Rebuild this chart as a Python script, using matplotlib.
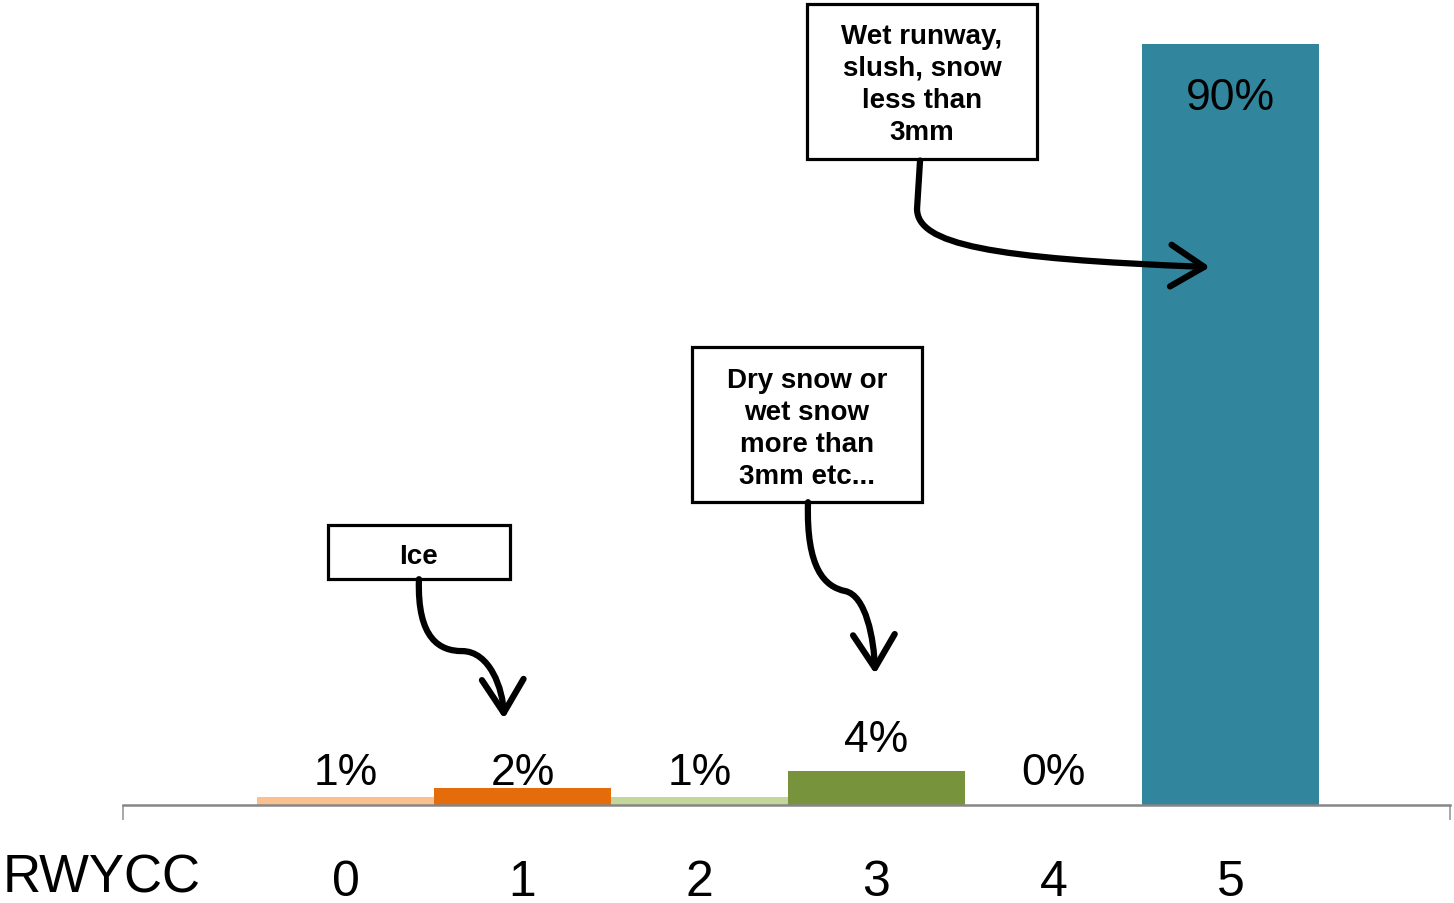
import matplotlib.pyplot as plt
from matplotlib.patches import Rectangle, FancyArrowPatch
from matplotlib.path import Path

rwycc = ['0', '1', '2', '3', '4', '5']
share = [1, 2, 1, 4, 0, 90]     # % of reports per runway condition code
colors = ['#FAC090', '#E46C0A', '#C3D69B', '#77933C', '#4BACC6', '#31859C']

plt.rcParams['font.family'] = ['Liberation Sans', 'DejaVu Sans']

fig = plt.figure(figsize=(14.54, 9.04), dpi=100)
ax = fig.add_axes([123 / 1454, 98 / 904, 1327 / 1454, 806 / 904])

x = list(range(len(share)))
ax.bar(x, share, width=1.0, color=colors)
ax.set_xlim(-1.257, 6.24)
ax.set_ylim(0, 95.3)

# value labels: small bars share a common floor, the tall one goes inside
for xi, v in zip(x, share):
    if v > 50:
        y = v - 7.7
    elif v >= 3:
        y = v + 2.4
    else:
        y = 2.5
    ax.text(xi, y, f'{v}%', ha='center', va='baseline', fontsize=32)

for s in ['top', 'right', 'left']:
    ax.spines[s].set_visible(False)
ax.spines['bottom'].set_color('#868686')
ax.spines['bottom'].set_linewidth(1.8)
ax.set_yticks([])
ax.set_xticks(x, rwycc)
ax.tick_params(axis='x', which='major', length=0, pad=39, labelsize=36)
ax.set_xticks([-1.257, 6.24], minor=True)
ax.tick_params(axis='x', which='minor', length=11, width=1.2, color='#9a9a9a')

fig.text(0.002, 0.001, 'RWYCC', fontsize=38, va='bottom', ha='left')

# callout boxes
boxes = [
    ((2.607, 76.4), 1.30, 18.3, (3.257, 85.3), 'Wet runway,\nslush, snow\nless than\n3mm', 20),
    ((1.958, 35.8), 1.30, 18.3, (2.607, 44.6), 'Dry snow or\nwet snow\nmore than\n3mm etc...', 20),
    ((-0.099, 26.7), 1.028, 6.4, (0.415, 29.5), 'Ice', 20),
]
for (bx, by), w, h, (tx, ty), label, fs in boxes:
    ax.add_patch(Rectangle((bx, by), w, h, facecolor='white', edgecolor='black',
                           linewidth=2.3, zorder=3))
    ax.text(tx, ty, label, ha='center', va='center', fontsize=fs,
            fontweight='bold', linespacing=1.3, zorder=4)

# curved arrows from the boxes to the bars
C = Path.CURVE4
arrows = [
    Path([(3.246, 76.2), (3.229, 70.5), (3.229, 66.3), (3.641, 64.6), (4.884, 63.6)],
         [Path.MOVETO, Path.LINETO, C, C, C]),
    Path([(0.415, 26.7), (0.404, 19.6), (0.534, 18.2), (0.658, 18.2),
          (0.816, 18.2), (0.890, 13.7), (0.895, 10.2)],
         [Path.MOVETO, C, C, C, C, C, C]),
    Path([(2.613, 35.8), (2.602, 27.9), (2.709, 25.8), (2.822, 25.3),
          (2.941, 24.8), (2.986, 19.6), (2.992, 15.5)],
         [Path.MOVETO, C, C, C, C, C, C]),
]
for p in arrows:
    ax.add_patch(FancyArrowPatch(path=p, arrowstyle='->,head_length=0.8,head_width=0.5',
                                 mutation_scale=30, linewidth=4.5, color='black',
                                 capstyle='round', joinstyle='round', zorder=3))

fig.savefig('out.png', dpi=100)
